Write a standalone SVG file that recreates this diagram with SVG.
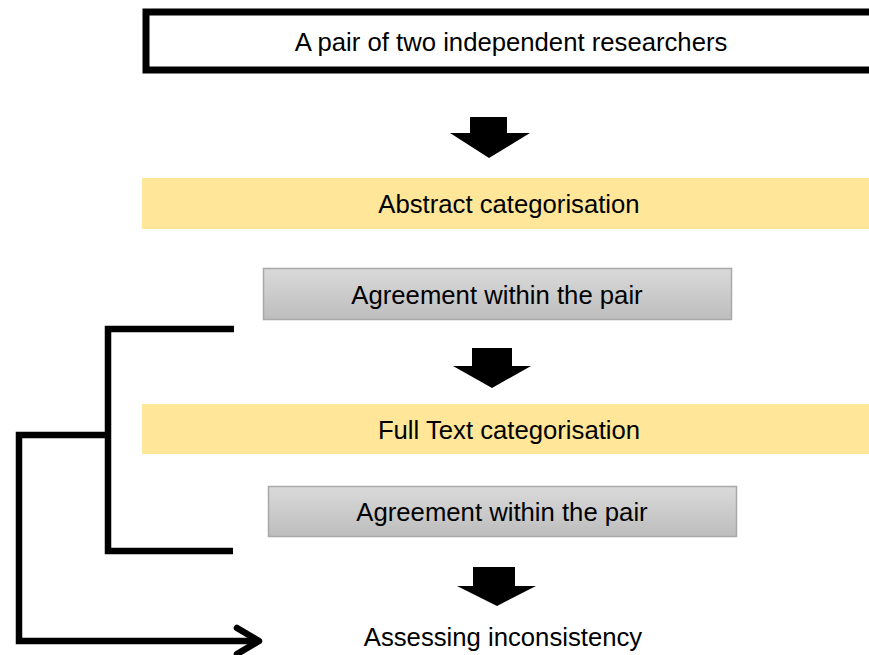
<svg xmlns="http://www.w3.org/2000/svg" width="869" height="655" viewBox="0 0 869 655">
<defs>
<linearGradient id="grey" x1="0" y1="0" x2="0" y2="1">
<stop offset="0" stop-color="#dadada"/>
<stop offset="1" stop-color="#bdbdbd"/>
</linearGradient>
</defs>
<style>
text{font-family:"Liberation Sans",Arial,sans-serif;font-size:25.7px;fill:#000;text-anchor:middle}
.band{fill:#ffe699}
.agree{fill:url(#grey);stroke:#a9a9a9;stroke-width:1.5}
.big{fill:#000}
.line{fill:none;stroke:#000;stroke-width:6.5;stroke-linejoin:miter}
</style>
<g id="researchers">
<rect x="146" y="12" width="730" height="58" fill="#fff" stroke="#000" stroke-width="7"/>
<text x="511" y="51">A pair of two independent researchers</text>
</g>
<g id="abstract">
<rect class="band" x="142" y="178" width="727" height="51"/>
<text x="509" y="213">Abstract categorisation</text>
</g>
<g id="agree1">
<rect class="agree" x="263.5" y="268.5" width="468" height="51"/>
<text x="497" y="304">Agreement within the pair</text>
</g>
<g id="fulltext">
<rect class="band" x="142" y="404" width="727" height="50"/>
<text x="509" y="439">Full Text categorisation</text>
</g>
<g id="agree2">
<rect class="agree" x="268.5" y="486.5" width="468" height="50"/>
<text x="502" y="521">Agreement within the pair</text>
</g>
<g id="assess">
<text x="503" y="646">Assessing inconsistency</text>
</g>
<g id="connectors">
<path class="big" d="M470,117 H507 V133 H530 L489,158 L450,133 H470 Z"/>
<path class="big" d="M472,348 H512 V366 H531 L492,388 L453,366 H472 Z"/>
<path class="big" d="M473,567 H515 V586 H536 L497,606 L457,586 H473 Z"/>
<path class="line" d="M234,329 H108 V551 H233"/>
<path class="line" d="M108,435 H19 V641 H258"/>
<path d="M237,628 L259,641 L237,654" fill="none" stroke="#000" stroke-width="6.5" stroke-linecap="round" stroke-linejoin="round"/>
</g>
</svg>
